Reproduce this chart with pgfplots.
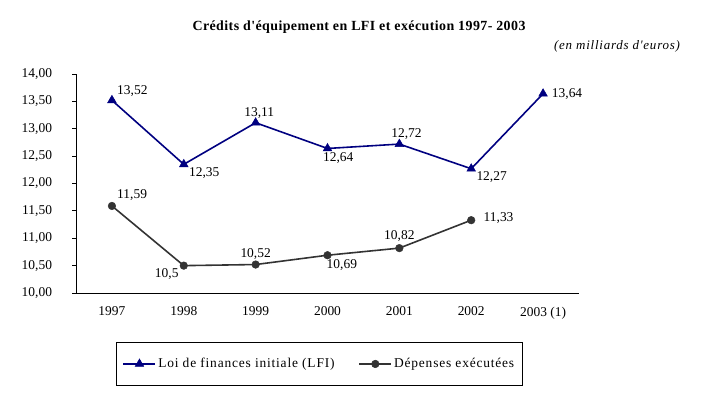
\documentclass[border=0pt]{standalone}
\usepackage{pgfplots}
\pgfplotsset{compat=1.18}
\usepackage{fontspec}
\setmainfont{Liberation Serif}
\newfontfamily\widefont[LetterSpace=6]{Liberation Serif}
\newfontfamily\widebold[LetterSpace=3,UprightFont={* Bold}]{Liberation Serif}
\definecolor{lfi}{RGB}{0,0,128}
\definecolor{dep}{RGB}{51,51,51}
\begin{document}
\begin{tikzpicture}[x=1bp,y=1bp]
\path (-76,-99) rectangle (645,293);
\node[font=\fontsize{14}{16}\selectfont\widebold] at (283,266) {Crédits d'équipement en LFI et exécution 1997- 2003};
\node[font=\fontsize{13}{15}\selectfont\widefont\itshape] at (541,247) {(en milliards d'euros)};
\begin{axis}[
  at={(0,0)}, anchor=south west,
  scale only axis, width=503bp, height=219bp,
  xmin=-0.5, xmax=6.5, ymin=10, ymax=14,
  axis lines*=left,
  axis line style={line width=1pt},
  tick align=outside,
  xtick={0,...,6},
  xticklabels={1997,1998,1999,2000,2001,2002,2003 (1)},
  x tick style={draw=none},
  minor xtick={-0.5,0.5,...,6.5},
  minor x tick style={line width=1pt, black},
  minor tick length=3.5bp,
  ytick={10,10.5,...,14},
  y tick style={line width=1pt, black},
  major tick length=3.5bp,
  /pgf/number format/assume math mode=true,
  yticklabel={\pgfmathprintnumber[fixed,fixed zerofill,precision=2,use comma]{\tick}},
  yticklabel style={xshift=-17bp},
  xticklabel style={yshift=-7bp},
  tick label style={font=\fontsize{13.5}{15}\selectfont},
  legend style={at={(0.484,-0.324)}, anchor=center, draw=black, line width=1pt,
    font=\fontsize{13.5}{15}\selectfont\widefont, inner xsep=6bp, inner ysep=14bp,
    /tikz/every even column/.append style={column sep=22bp}},
  legend columns=2,
  legend image code/.code={\draw[mark repeat=2,mark phase=2] plot coordinates {(0bp,0bp) (16bp,0bp) (32bp,0bp)};},
  clip=false,
]
\addplot[color=lfi, line width=1.6pt, mark=triangle*, mark size=5bp, mark options={solid, line width=0.5pt}]
  coordinates {(0,13.52) (1,12.35) (2,13.11) (3,12.64) (4,12.72) (5,12.27) (6,13.64)};
\addlegendentry{Loi de finances initiale (LFI)}
\addplot[color=dep, line width=1.6pt, mark=*, mark size=3.8bp, mark options={solid, line width=0.5pt}]
  coordinates {(0,11.59) (1,10.5) (2,10.52) (3,10.69) (4,10.82) (5,11.33)};
\addlegendentry{Dépenses exécutées}
\begin{scope}[every node/.style={font=\fontsize{13.5}{15}\selectfont, inner sep=1.5bp}]
\node[anchor=south west] at (axis cs:0.05,13.56) {13,52};
\node[anchor=north west] at (axis cs:1.05,12.32) {12,35};
\node[anchor=south] at (axis cs:2.05,13.16) {13,11};
\node[anchor=north] at (axis cs:3.15,12.6) {12,64};
\node[anchor=south] at (axis cs:4.1,12.78) {12,72};
\node[anchor=north west] at (axis cs:5.05,12.24) {12,27};
\node[anchor=west] at (axis cs:6.1,13.64) {13,64};
\node[anchor=south west] at (axis cs:0.05,11.65) {11,59};
\node[anchor=north east] at (axis cs:0.95,10.47) {10,5};
\node[anchor=south] at (axis cs:2,10.58) {10,52};
\node[anchor=north] at (axis cs:3.2,10.64) {10,69};
\node[anchor=south] at (axis cs:4,10.9) {10,82};
\node[anchor=west] at (axis cs:5.15,11.36) {11,33};
\end{scope}
\end{axis}
\end{tikzpicture}
\end{document}
